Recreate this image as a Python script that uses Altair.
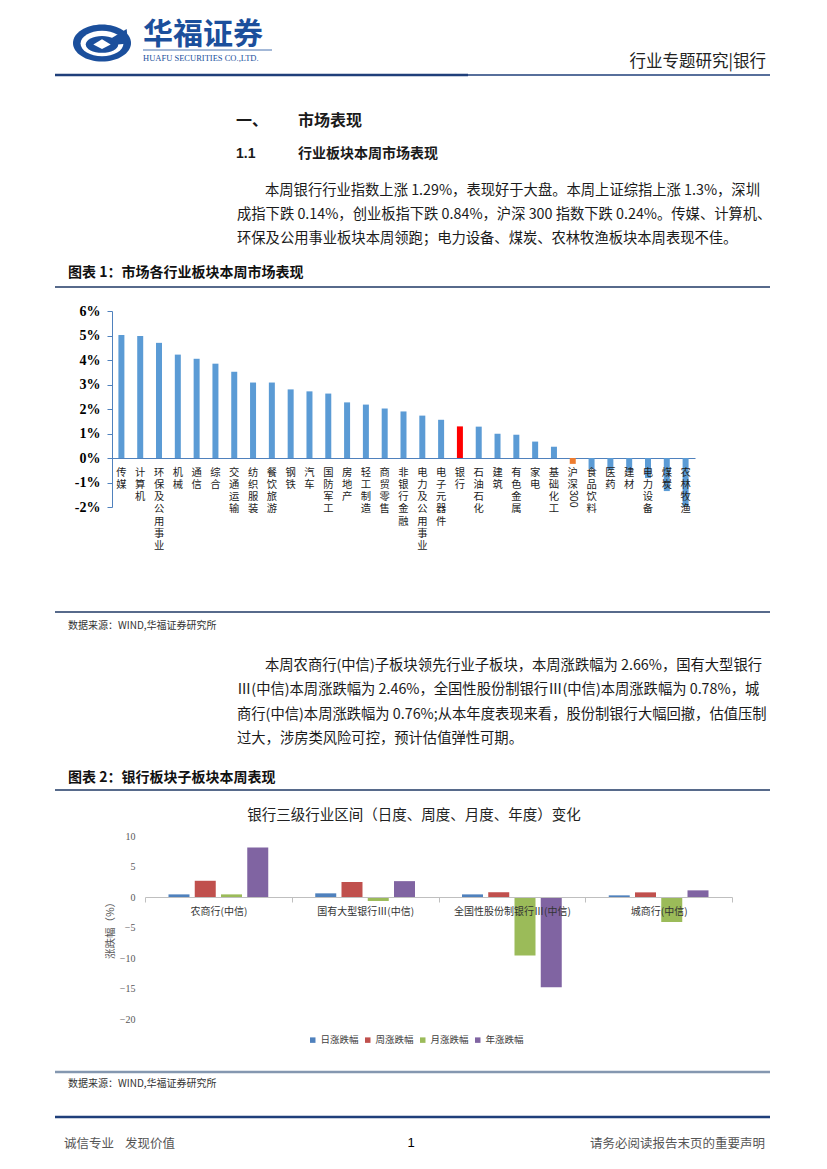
import altair as alt
import pandas as pd

CJK = "Noto Sans CJK SC"
BLUE = "#1B4F9C"
NAVY = "#1F3F7A"

# ---------------- data: chart 1 ----------------
industries = ["传媒", "计算机", "环保及公用事业", "机械", "通信", "综合", "交通运输", "纺织服装",
              "餐饮旅游", "钢铁", "汽车", "国防军工", "房地产", "轻工制造", "商贸零售", "非银行金融",
              "电力及公用事业", "电子元器件", "银行", "石油石化", "建筑", "有色金属", "家电", "基础化工",
              "沪深300", "食品饮料", "医药", "建材", "电力设备", "煤炭", "农林牧渔"]
weekly_change = [5.02, 4.98, 4.70, 4.22, 4.05, 3.85, 3.52, 3.08,
                 3.08, 2.80, 2.72, 2.63, 2.27, 2.18, 2.02, 1.90,
                 1.73, 1.56, 1.29, 1.28, 0.99, 0.95, 0.67, 0.46,
                 -0.24, -0.45, -0.48, -0.52, -0.82, -1.35, -1.98]
y1_ticks = [-2, -1, 0, 1, 2, 3, 4, 5, 6]

# ---------------- data: chart 2 ----------------
sub_sectors = ["农商行(中信)", "国有大型银行Ⅲ(中信)", "全国性股份制银行Ⅲ(中信)", "城商行(中信)"]
series = ["日涨跌幅", "周涨跌幅", "月涨跌幅", "年涨跌幅"]
daily = [0.43, 0.60, 0.43, 0.27]
weekly = [2.66, 2.46, 0.78, 0.76]
monthly = [0.43, -0.65, -9.60, -4.10]
yearly = [8.10, 2.60, -14.80, 1.09]
y2_ticks = [-20, -15, -10, -5, 0, 5, 10]
series_colors = ["#4F81BD", "#C0504D", "#9BBB59", "#8064A2"]

# ---------------- page text ----------------
para1 = ["本周银行行业指数上涨 1.29%，表现好于大盘。本周上证综指上涨 1.3%，深圳",
         "成指下跌 0.14%，创业板指下跌 0.84%，沪深 300 指数下跌 0.24%。传媒、计算机、",
         "环保及公用事业板块本周领跑；电力设备、煤炭、农林牧渔板块本周表现不佳。"]
para2 = ["本周农商行(中信)子板块领先行业子板块，本周涨跌幅为 2.66%，国有大型银行",
         "Ⅲ(中信)本周涨跌幅为 2.46%，全国性股份制银行Ⅲ(中信)本周涨跌幅为 0.78%，城",
         "商行(中信)本周涨跌幅为 0.76%;从本年度表现来看，股份制银行大幅回撤，估值压制",
         "过大，涉房类风险可控，预计估值弹性可期。"]

df1 = pd.DataFrame({
    "industry": industries,
    "change": weekly_change,
    "lab": ["沪\n深" if c == "沪深300" else "\n".join(c) for c in industries],
})
rows = []
for i, s in enumerate(sub_sectors):
    for name, vals in zip(series, [daily, weekly, monthly, yearly]):
        rows.append({"sector": s, "series": name, "value": vals[i]})
df2 = pd.DataFrame(rows)

base = alt.Chart(pd.DataFrame({"k": [0]}))


def txt(s, x, y, size, align="left", baseline="middle", font=CJK, color="#1a1a1a", **kw):
    return base.mark_text(text=s, fontSize=size, align=align, baseline=baseline,
                          font=font, color=color, **kw).encode(x=alt.value(x), y=alt.value(y))


def hline(x1, x2, y, color, w):
    return base.mark_rule(color=color, strokeWidth=w).encode(
        x=alt.value(x1), x2=alt.value(x2), y=alt.value(y))


def logo(path, color):
    return base.mark_point(shape=path, size=3364, filled=True, color=color,
                           opacity=1, strokeWidth=0).encode(x=alt.value(94), y=alt.value(35))


page = [
    logo("M -1 0 A 1 0.64 0 1 1 1 0 A 1 0.64 0 1 1 -1 0 Z", BLUE),
    logo("M -0.74 0.02 A 0.74 0.44 0 1 1 0.74 0.02 A 0.74 0.44 0 1 1 -0.74 0.02 Z", "white"),
    logo("M -0.56 0.05 A 0.56 0.29 0 1 1 0.56 0.05 A 0.56 0.29 0 1 1 -0.56 0.05 Z", BLUE),
    logo("M 0.25 -0.12 L 0.85 -0.48 L 0.9 0.02 L 0.45 0.06 Z", BLUE),
    logo("M -0.3 0.05 L 0 -0.13 L 0.3 0.05 L 0 0.21 Z", "white"),
    txt("华福证券", 135, 27, 30, font=CJK, color=BLUE, fontWeight="bold"),
    hline(135, 264, 42, BLUE, 0.8),
    txt("HUAFU SECURITIES CO.,LTD.", 135, 50, 8.5, font="Liberation Serif", color=BLUE),
    txt("行业专题研究|银行", 758, 54, 16.5, align="right", color="#222"),
    hline(47, 460, 67, NAVY, 2.5),
    hline(460, 762, 67, NAVY, 1.3),
    txt("一、", 228, 113, 16, fontWeight="bold"),
    txt("市场表现", 290, 113, 16, fontWeight="bold"),
    txt("1.1", 228, 146, 14, font="Liberation Sans", fontWeight="bold"),
    txt("行业板块本周市场表现", 290, 146, 14, fontWeight="bold"),
    txt(para1[0], 257, 176, 14.3, baseline="top"),
    txt("\n".join(para1[1:]), 229, 200, 14.3, baseline="top", lineBreak="\n", lineHeight=24),
    txt("图表 1：市场各行业板块本周市场表现", 60, 265, 14, fontWeight="bold", color="#111"),
    hline(47, 762, 279, "#1F3864", 1.3),
    hline(47, 762, 604, "#1F3864", 1.3),
    txt("数据来源：WIND,华福证券研究所", 60, 618, 10, color="#333"),
    txt(para2[0], 257, 651, 14.3, baseline="top"),
    txt("\n".join(para2[1:]), 229, 675.3, 14.3, baseline="top", lineBreak="\n", lineHeight=24.3),
    txt("图表 2：银行板块子板块本周表现", 60, 770, 14, fontWeight="bold", color="#111"),
    hline(47, 762, 782, "#1F3864", 1.3),
    txt("银行三级行业区间（日度、周度、月度、年度）变化", 406, 808, 14.5, align="center", color="#222"),
    hline(47, 762, 1064, "#8497B0", 2.5),
    txt("数据来源：WIND,华福证券研究所", 60, 1076, 10, color="#333"),
    hline(47, 762, 1109, NAVY, 2.5),
    txt("诚信专业", 56, 1136, 12.5, color="#555"),
    txt("发现价值", 117, 1136, 12.5, color="#555"),
    txt("1", 403, 1135, 13, align="center", font="Liberation Sans", color="#000"),
    txt("请务必阅读报告末页的重要声明", 757, 1136, 12.5, align="right", color="#555"),
]

# ---------------- chart 1 ----------------
x1 = alt.X("industry:N", sort=industries,
           scale=alt.Scale(range=[104, 687], paddingInner=0, paddingOuter=0),
           axis=alt.Axis(title=None, labels=False, ticks=False, orient="bottom", offset=450 - 1153,
                         domainColor="#4F81BD", domainWidth=1.2))
y1 = alt.Y("change:Q", scale=alt.Scale(domain=[-2, 6], range=[499, 303], nice=False),
           axis=alt.Axis(title=None, orient="left", offset=-104, values=y1_ticks,
                         labelExpr="datum.value + '%'", domainColor="#4F81BD", tickColor="#4F81BD",
                         tickSize=5, labelPadding=7, labelFont="Liberation Serif",
                         labelFontWeight="bold", labelFontSize=14, labelColor="#000", grid=False))
bars1 = alt.Chart(df1).mark_bar(size=6).encode(
    x=x1, y=y1,
    color=alt.value("#5B9BD5", condition=[
        {"test": "datum.industry === '银行'", "value": "#FF0000"},
        {"test": "datum.industry === '沪深300'", "value": "#ED7D31"},
    ]),
)
labels1 = alt.Chart(df1).mark_text(baseline="top", align="center", dy=9.5, lineBreak="\n",
                                   lineHeight=12.3, fontSize=10.3, font=CJK, color="#222").encode(
    x=alt.X("industry:N", sort=industries), y=alt.datum(0), text="lab:N")
lab300 = alt.Chart(df1).transform_filter(alt.datum.industry == "沪深300").mark_text(
    text="300", angle=90, align="left", baseline="middle", dx=32, fontSize=10.5,
    font="Liberation Sans", color="#222").encode(x=alt.X("industry:N", sort=industries), y=alt.datum(0))
chart1 = alt.layer(bars1, labels1, lab300)

# ---------------- chart 2 ----------------
bars2 = alt.Chart(df2).mark_bar().encode(
    x=alt.X("sector:N", sort=sub_sectors,
            scale=alt.Scale(range=[137, 724], paddingInner=0, paddingOuter=0),
            axis=alt.Axis(title=None, orient="bottom", offset=889 - 1153, labelAngle=0,
                          labelFontSize=10, labelColor="#333", labelFont=CJK, labelPadding=4,
                          tickBand="extent", tickColor="#BFBFBF", tickSize=5,
                          domainColor="#BFBFBF", labelLimit=0, zindex=1)),
    xOffset=alt.XOffset("series:N", sort=series,
                        scale=alt.Scale(paddingInner=0.2, paddingOuter=0.895)),
    y=alt.Y("value:Q", scale=alt.Scale(domain=[-20, 10], range=[1011, 828], nice=False),
            axis=alt.Axis(orient="left", offset=-137, values=y2_ticks, domain=False, ticks=False,
                          grid=False, labelPadding=10, labelFontSize=10, labelColor="#595959",
                          labelFont="Liberation Serif", title="涨跌幅（%）", titleFont=CJK,
                          titleFontSize=10.5, titleFontWeight="normal", titleColor="#595959")),
    color=alt.Color("series:N", sort=series,
                    scale=alt.Scale(domain=series, range=series_colors),
                    legend=alt.Legend(orient="none", legendX=300, legendY=1027, direction="horizontal",
                                      title=None, symbolType="square", symbolSize=30,
                                      labelFontSize=9.5, labelFont=CJK, labelColor="#404040",
                                      columnPadding=4, labelOffset=3, symbolStrokeWidth=0, padding=0)),
)

chart = alt.layer(*page, chart1, bars2).resolve_scale(
    x="independent", y="independent"
).resolve_axis(
    x="independent", y="independent"
).properties(
    width=811, height=1153, padding=0, background="white",
    autosize=alt.AutoSizeParams(type="none"),
).configure_view(stroke=None).configure_axis(grid=False)

chart.save("out.html", embed_options={"renderer": "svg", "actions": False})
